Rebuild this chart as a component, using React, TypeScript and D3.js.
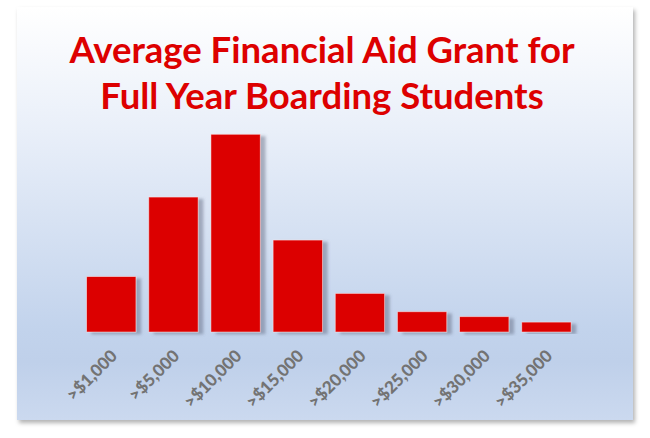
import React, { useEffect, useRef } from "react";
import * as d3 from "d3";

const categories = [">$1,000", ">$5,000", ">$10,000", ">$15,000", ">$20,000", ">$25,000", ">$30,000", ">$35,000"];
const grants = [11.2, 27.3, 40, 18.6, 7.8, 4.1, 3.1, 2.0];
const titleLines = ["Average Financial Aid Grant for", "Full Year Boarding Students"];

const WIDTH = 650;
const HEIGHT = 438;

export default function App() {
  const svgRef = useRef<SVGSVGElement>(null);

  useEffect(() => {
    const svg = d3.select(svgRef.current).attr("width", WIDTH).attr("height", HEIGHT);
    svg.selectAll("*").remove();

    const defs = svg.append("defs");
    const grad = defs
      .append("linearGradient")
      .attr("id", "bg")
      .attr("x1", 0)
      .attr("y1", 0)
      .attr("x2", 0)
      .attr("y2", 1);
    [
      [0, "#ffffff"],
      [0.3, "#e9eff9"],
      [0.78, "#c2d3ec"],
      [0.86, "#bfd0ea"],
      [1, "#cbd9ef"],
    ].forEach(([o, c]) => grad.append("stop").attr("offset", o as number).attr("stop-color", c as string));

    const frameShadow = defs.append("filter").attr("id", "frameShadow").attr("x", "-5%").attr("y", "-5%").attr("width", "110%").attr("height", "110%");
    frameShadow
      .append("feDropShadow")
      .attr("dx", 2)
      .attr("dy", 3)
      .attr("stdDeviation", 2)
      .attr("flood-color", "#000")
      .attr("flood-opacity", 0.3);

    const barShadow = defs.append("filter").attr("id", "barShadow").attr("x", "-20%").attr("y", "-20%").attr("width", "150%").attr("height", "140%");
    barShadow
      .append("feDropShadow")
      .attr("dx", 5)
      .attr("dy", 2)
      .attr("stdDeviation", 1.8)
      .attr("flood-color", "#5a6478")
      .attr("flood-opacity", 0.45);

    // frame
    svg
      .append("rect")
      .attr("x", 17)
      .attr("y", 7)
      .attr("width", 616)
      .attr("height", 413)
      .attr("fill", "url(#bg)")
      .attr("filter", "url(#frameShadow)");

    // title
    svg
      .append("g")
      .selectAll("text")
      .data(titleLines)
      .enter()
      .append("text")
      .attr("x", 322)
      .attr("y", (d, i) => 63 + i * 46)
      .attr("text-anchor", "middle")
      .attr("fill", "#dd0000")
      .attr("font-family", "Lato, 'Open Sans', sans-serif")
      .attr("font-weight", "bold")
      .attr("font-size", 36.5)
      .text((d) => d);

    const xScale = d3
      .scaleBand()
      .domain(categories)
      .range([80.2, 577.5])
      .paddingInner(0.207)
      .paddingOuter(0.1035);

    const yScale = d3.scaleLinear().domain([0, 40]).range([332, 134.3]);

    svg
      .append("g")
      .selectAll("rect")
      .data(grants)
      .enter()
      .append("rect")
      .attr("x", (d, i) => xScale(categories[i]) as number)
      .attr("y", (d) => yScale(d))
      .attr("width", xScale.bandwidth())
      .attr("height", (d) => yScale(0) - yScale(d))
      .attr("fill", "#dc0000")
      .attr("stroke", "rgba(255,235,235,0.6)")
      .attr("stroke-width", 0.8)
      .attr("filter", "url(#barShadow)");

    const xAxis = d3.axisBottom(xScale).tickSize(0).tickPadding(0);
    const axisG = svg
      .append("g")
      .attr("transform", `translate(0, ${yScale(0)})`)
      .call(xAxis)
      .attr("font-family", "Lato, 'Open Sans', sans-serif")
      .attr("font-size", 17)
      .attr("font-weight", 900);
    axisG.select(".domain").remove();
    axisG
      .selectAll("text")
      .attr("fill", "#737373")
      .attr("text-anchor", "end")
      .attr("dy", 0)
      .attr("y", 0)
      .attr("transform", "translate(7, 25) rotate(-45)");
  }, []);

  return (
    <div>
      <svg ref={svgRef} style={{ position: "absolute", left: 0, top: 0 }} />
    </div>
  );
}
